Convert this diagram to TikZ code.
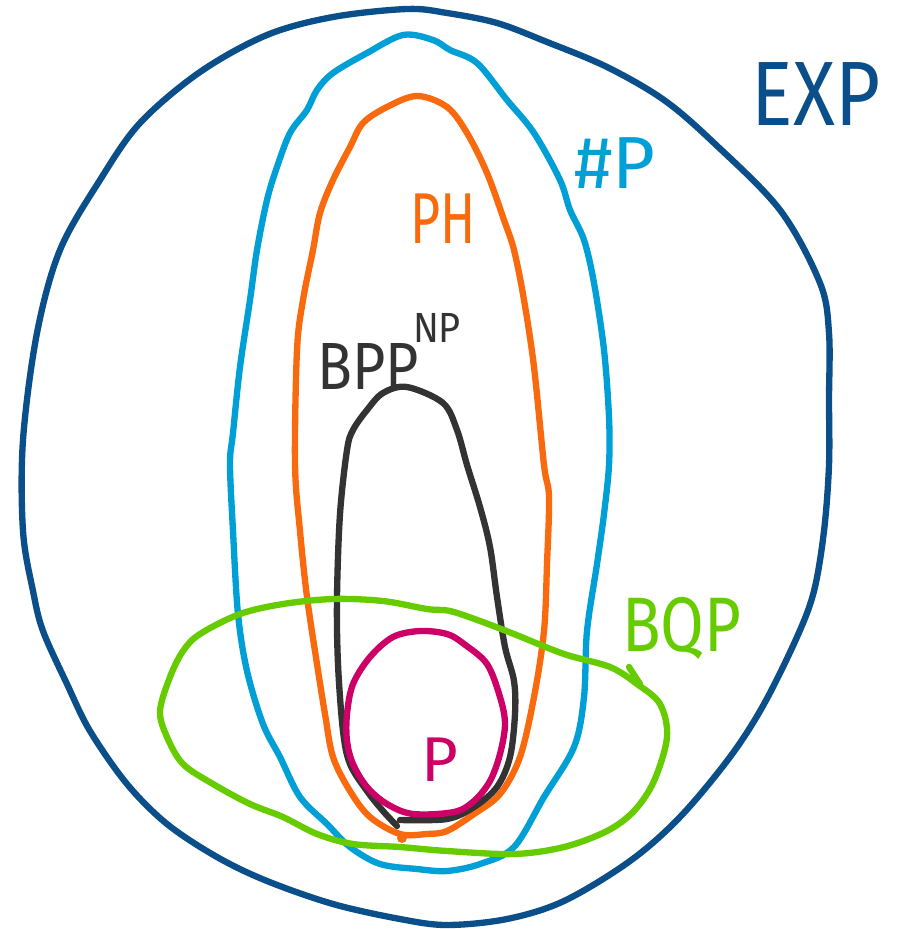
\documentclass[tikz,border=0pt]{standalone}
\usepackage{fontspec}
\setmainfont{Fira Sans}
\definecolor{expblue}{RGB}{10,78,138}
\definecolor{sharpblue}{RGB}{0,160,214}
\definecolor{phorange}{RGB}{249,106,14}
\definecolor{bppgray}{RGB}{51,51,51}
\definecolor{pmagenta}{RGB}{204,0,102}
\definecolor{bqpgreen}{RGB}{102,204,0}
\begin{document}
\begin{tikzpicture}[x=0.02cm, y=-0.02cm,
  blob/.style={line width=3.6pt, line join=round, line cap=round},
  lbl/.style={inner sep=0pt, font=\fontsize{#1}{#1}\selectfont}]
  \useasboundingbox (0,0) rectangle (897,929);
  % EXP
  \draw[blob, expblue] plot[smooth cycle, tension=0.55] coordinates {
    (407,9) (447,13) (497,23) (547,42) (607,67) (664,100) (714,143)
    (780,210) (820,283) (829,333) (829,400) (829,465) (824,531) (814,591)
    (797,637) (764,704) (730,757) (680,817) (630,861) (564,901) (507,919)
    (447,925) (400,919) (333,904) (267,881) (217,857) (167,824) (127,784)
    (90,731) (67,684) (43,631) (33,591) (23,531) (23,440) (37,333)
    (60,250) (100,180) (140,123) (200,72) (267,35) (333,17)};
  % #P
  \draw[blob, sharpblue] plot[smooth cycle, tension=0.55] coordinates {
    (403,35) (433,40) (450,50) (477,63) (507,100) (534,133) (560,180)
    (570,210) (584,240) (594,283) (604,350) (609,417) (609,465) (604,514)
    (597,564) (587,631) (584,697) (574,747) (544,797) (514,847) (480,864)
    (447,871) (417,869) (380,864) (350,847) (327,824) (300,797) (280,757)
    (263,724) (247,671) (238,614) (233,531) (230,464) (233,433) (240,367)
    (250,300) (257,250) (267,200) (277,167) (290,133) (307,110) (317,90)
    (333,73) (367,53)};
  % PH
  \draw[blob, phorange] plot[smooth cycle, tension=0.55] coordinates {
    (417,96) (447,107) (467,133) (487,173) (504,220) (514,250) (524,300)
    (534,367) (544,465) (549,497) (547,564) (544,631) (534,697) (520,757)
    (500,794) (474,814) (447,831) (427,834) (400,834) (370,817) (350,791)
    (333,757) (325,714) (317,664) (307,597) (300,531) (295,464) (297,350)
    (303,300) (313,250) (320,213) (333,180) (350,147) (363,123) (387,107)};
  \fill[phorange] (402,838) circle (5);
  % BPP^NP
  \draw[blob, bppgray] plot[smooth, tension=0.55] coordinates {
    (400,820) (447,819) (474,807) (497,787) (510,757) (515,714) (514,681)
    (505,647) (497,597) (490,547) (480,507) (467,465) (457,430) (443,403)
    (407,387) (383,393) (367,410) (353,430) (347,450) (340,514) (337,597)
    (338,664) (343,731) (350,764) (367,791) (383,811) (397,826)};
  % P
  \draw[blob, pmagenta] plot[smooth cycle, tension=0.55] coordinates {
    (420,631) (447,634) (464,644) (487,664) (500,697) (505,724) (500,754)
    (490,781) (474,801) (454,812) (413,814) (387,804) (367,787) (353,764)
    (347,741) (347,714) (353,684) (370,657) (393,637)};
  % BQP
  \draw[blob, bqpgreen] plot[smooth cycle, tension=0.55] coordinates {
    (427,609) (450,611) (480,621) (514,634) (564,654) (610,667) (637,684)
    (660,704) (667,737) (654,781) (634,811) (607,831) (564,847) (514,854)
    (447,851) (400,847) (353,844) (317,834) (283,817) (250,804) (213,784)
    (183,764) (167,737) (160,711) (170,677) (183,651) (200,634) (240,614)
    (283,604) (333,599) (383,601)};
  \draw[blob, bqpgreen] (629,667) -- (640,684);
  % labels
  \node[lbl=52, text=expblue]   (exp) at (816,94)  {\scalebox{0.85}[1]{EXP}};
  \node[lbl=42, text=sharpblue] (shp) at (615,163) {\#P};
  \node[lbl=41, text=phorange]  (ph)  at (443,219) {\scalebox{0.72}[1]{PH}};
  \node[lbl=38, text=bppgray]   (bpp) at (368,366) {\scalebox{0.86}[1]{BPP}};
  \node[lbl=24, text=bppgray]   (np)  at (437,328) {\scalebox{0.9}[1]{NP}};
  \node[lbl=44, text=bqpgreen]  (bqp) at (682,628) {\scalebox{0.82}[1]{BQP}};
  \node[lbl=36, text=pmagenta]  (p)   at (440,760) {P};
\end{tikzpicture}
\end{document}
